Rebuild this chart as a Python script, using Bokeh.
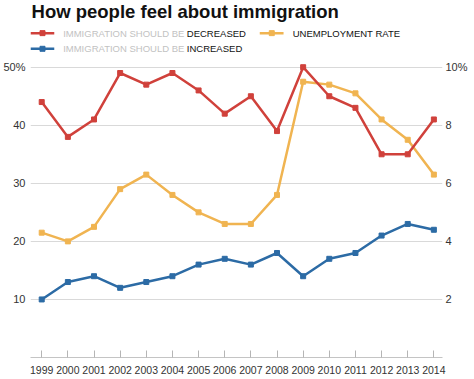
from bokeh.plotting import figure
from bokeh.models import Range1d, LinearAxis, FixedTicker
from bokeh.core.properties import value
from bokeh.embed import file_html
from bokeh.resources import INLINE

# ---- data ----
years = list(range(1999, 2015))
decreased = [44, 38, 41, 49, 47, 49, 46, 42, 45, 39, 50, 45, 43, 35, 35, 41]
increased = [10, 13, 14, 12, 13, 14, 16, 17, 16, 18, 14, 17, 18, 21, 23, 22]
unemployment = [4.3, 4.0, 4.5, 5.8, 6.3, 5.6, 5.0, 4.6, 4.6, 5.6, 9.5, 9.4, 9.1, 8.2, 7.5, 6.3]
left_ticks = [10, 20, 30, 40, 50]
right_ticks = [2, 4, 6, 8, 10]
title_text = "How people feel about immigration"
legend_prefix = "IMMIGRATION SHOULD BE"
legend_dec = "DECREASED"
legend_inc = "INCREASED"
legend_unemp = "UNEMPLOYMENT RATE"

RED = "#d0413b"
BLUE = "#2c6ba5"
GOLD = "#f0b451"
FONT = "Liberation Sans"

Y_TOP = 61.49
p = figure(width=472, height=378, output_backend="svg", toolbar_location=None,
           x_range=Range1d(1998.571, 2014.33), y_range=Range1d(0, Y_TOP),
           min_border_left=27, min_border_right=30, min_border_top=0,
           min_border_bottom=21)
p.outline_line_color = None
p.background_fill_color = "white"
p.border_fill_color = "white"
p.extra_y_ranges = {"unemp": Range1d(0, Y_TOP / 5)}

# x axis
xa = p.xaxis[0]
xa.ticker = FixedTicker(ticks=years)
xa.major_tick_in = 7
xa.major_tick_out = 0
xa.minor_tick_line_color = None
xa.axis_line_color = "#c4c4c4"
xa.major_tick_line_color = "#b5b5b5"
xa.major_label_standoff = 8
xa.major_label_text_font = FONT
xa.major_label_text_font_size = "10.5px"
xa.major_label_text_color = "#333333"
p.xgrid.grid_line_color = None

# left axis
ya = p.yaxis[0]
ya.ticker = FixedTicker(ticks=left_ticks)
ya.major_label_overrides = {50: "50%"}
ya.axis_line_color = None
ya.major_tick_line_color = None
ya.minor_tick_line_color = None
ya.major_tick_in = 0
ya.major_tick_out = 0
ya.minor_tick_in = 0
ya.minor_tick_out = 0
ya.major_label_standoff = 5
ya.major_label_text_font = FONT
ya.major_label_text_font_size = "11px"
ya.major_label_text_color = "#333333"
p.ygrid.ticker = FixedTicker(ticks=left_ticks)
p.ygrid.grid_line_color = "#d9d9d9"
p.ygrid.grid_line_width = 1

# right axis
ra = LinearAxis(y_range_name="unemp", ticker=FixedTicker(ticks=right_ticks))
ra.major_label_overrides = {10: "10%"}
ra.axis_line_color = None
ra.major_tick_line_color = None
ra.minor_tick_line_color = None
ra.major_tick_in = 0
ra.major_tick_out = 0
ra.minor_tick_in = 0
ra.minor_tick_out = 0
ra.major_label_standoff = 3
ra.major_label_text_font = FONT
ra.major_label_text_font_size = "11px"
ra.major_label_text_color = "#333333"
p.add_layout(ra, "right")

# series
p.line(years, unemployment, y_range_name="unemp", color=GOLD, line_width=2.5)
p.scatter(years, unemployment, y_range_name="unemp", marker="square", size=5, color=GOLD)
p.line(years, decreased, color=RED, line_width=2.5)
p.scatter(years, decreased, marker="square", size=5, color=RED)
p.line(years, increased, color=BLUE, line_width=2.5)
p.scatter(years, increased, marker="square", size=5, color=BLUE)

# title
p.text(x=[1998.61], y=[59.61], text=[title_text], text_font=value(FONT),
       text_font_style="bold", text_font_size="18.5px", text_color="#111111",
       text_baseline="middle", text_align="left")

# legend
row1, row2 = 55.87, 53.17
for c, yy in ((RED, row1), (BLUE, row2)):
    p.line([1998.57, 1999.48], [yy, yy], color=c, line_width=2.5)
    p.scatter([1999.03], [yy], marker="square", size=5, color=c)
p.line([2007.34, 2008.25], [row1, row1], color=GOLD, line_width=2.5)
p.scatter([2007.80], [row1], marker="square", size=5, color=GOLD)

p.text(x=[1999.82, 1999.82], y=[row1, row2], text=[legend_prefix, legend_prefix],
       text_font=value(FONT), text_font_size="9.5px", text_color="#c2c2c2",
       text_baseline="middle", text_align="left")
p.text(x=[2004.55, 2004.55], y=[row1, row2], text=[legend_dec, legend_inc],
       text_font=value(FONT), text_font_size="9.5px", text_color="#111111",
       text_baseline="middle", text_align="left")
p.text(x=[2008.6], y=[row1], text=[legend_unemp],
       text_font=value(FONT), text_font_size="9.5px", text_color="#111111",
       text_baseline="middle", text_align="left")

open("out.html", "w").write(file_html(p, INLINE))
